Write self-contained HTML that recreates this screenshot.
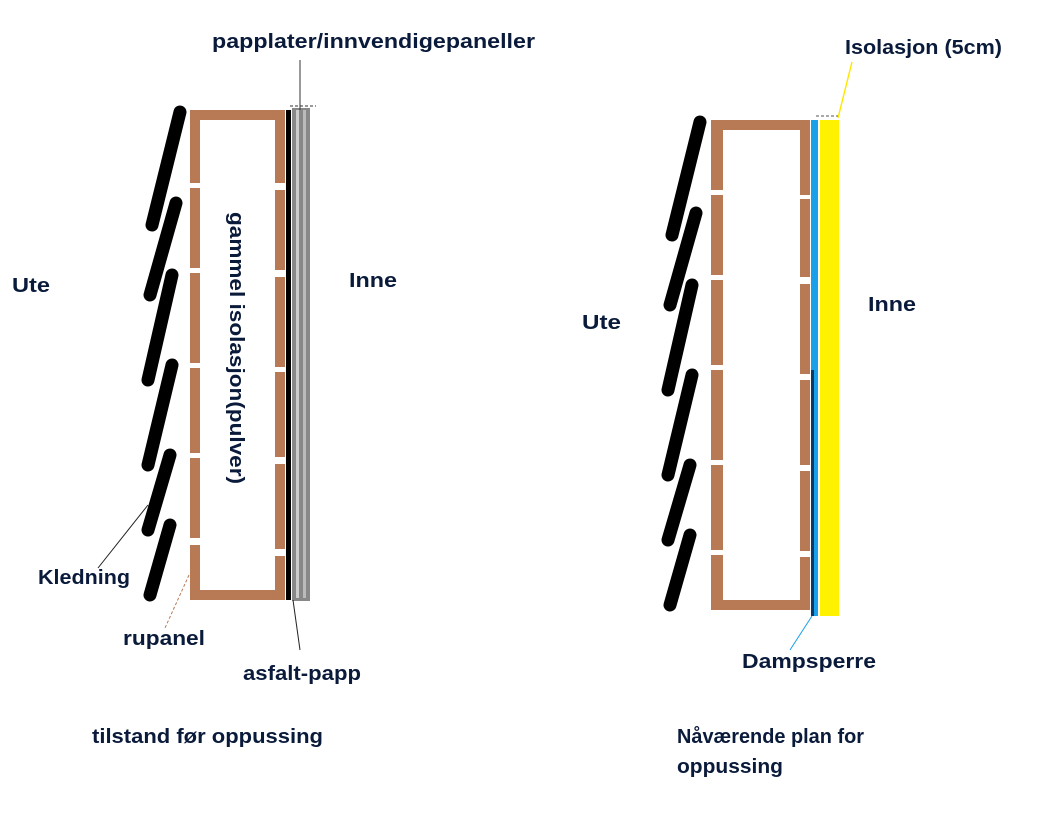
<!DOCTYPE html>
<html><head><style>
body{margin:0;background:#fff;width:1062px;height:815px;overflow:hidden}
svg{display:block}
text{font-family:"Liberation Sans",sans-serif;font-weight:bold;font-size:20px;fill:#0a1a3a}
</style></head><body>
<svg width="1062" height="815" viewBox="0 0 1062 815">
<!-- LEFT -->
<g stroke="#000" stroke-width="13" stroke-linecap="round" fill="none">
<line x1="180" y1="112" x2="152" y2="225"/>
<line x1="176" y1="203" x2="150" y2="295"/>
<line x1="172" y1="275" x2="148" y2="380"/>
<line x1="172" y1="365" x2="148" y2="465"/>
<line x1="170" y1="455" x2="148" y2="530"/>
<line x1="170" y1="525" x2="150" y2="595"/>
</g>
<g fill="#b87a55">
<rect x="190" y="110" width="95" height="10"/>
<rect x="190" y="590" width="95" height="10"/>
<rect x="190" y="110" width="10" height="73"/>
<rect x="190" y="188" width="10" height="80"/>
<rect x="190" y="273" width="10" height="90"/>
<rect x="190" y="368" width="10" height="85"/>
<rect x="190" y="458" width="10" height="80"/>
<rect x="190" y="545" width="10" height="55"/>
<rect x="275" y="110" width="10" height="73"/>
<rect x="275" y="190" width="10" height="80"/>
<rect x="275" y="277" width="10" height="90"/>
<rect x="275" y="372" width="10" height="85"/>
<rect x="275" y="464" width="10" height="85"/>
<rect x="275" y="556" width="10" height="44"/>
</g>
<rect x="286" y="110" width="5" height="490" fill="#000"/>
<rect x="292" y="108" width="18" height="493" fill="#888"/>
<rect x="296" y="110" width="3" height="488" fill="#ccc"/>
<rect x="303" y="110" width="3" height="488" fill="#bbb"/>
<line x1="300" y1="60" x2="300" y2="110" stroke="#333" stroke-width="1"/>
<line x1="290" y1="106" x2="316" y2="106" stroke="#333" stroke-width="1" stroke-dasharray="3,2"/>
<line x1="148" y1="505" x2="98" y2="568" stroke="#222" stroke-width="1"/>
<line x1="189" y1="575" x2="165" y2="628" stroke="#b87a55" stroke-width="1" stroke-dasharray="3,2"/>
<line x1="293" y1="600" x2="300" y2="650" stroke="#222" stroke-width="1"/>
<text x="220" y="222" transform="rotate(90 230 222)" fill="#0a2a6a" textLength="272" lengthAdjust="spacingAndGlyphs">gammel isolasjon(pulver)</text>
<text x="212" y="48" textLength="323" lengthAdjust="spacingAndGlyphs">papplater/innvendigepaneller</text>
<text x="12" y="292" textLength="38" lengthAdjust="spacingAndGlyphs">Ute</text>
<text x="349" y="287" textLength="48" lengthAdjust="spacingAndGlyphs">Inne</text>
<text x="38" y="584" textLength="92" lengthAdjust="spacingAndGlyphs">Kledning</text>
<text x="123" y="645" textLength="82" lengthAdjust="spacingAndGlyphs">rupanel</text>
<text x="243" y="680" textLength="118" lengthAdjust="spacingAndGlyphs">asfalt-papp</text>
<text x="92" y="743" textLength="231" lengthAdjust="spacingAndGlyphs">tilstand før oppussing</text>
<!-- RIGHT -->
<g stroke="#000" stroke-width="13" stroke-linecap="round" fill="none">
<line x1="700" y1="122" x2="672" y2="235"/>
<line x1="696" y1="213" x2="670" y2="305"/>
<line x1="692" y1="285" x2="668" y2="390"/>
<line x1="692" y1="375" x2="668" y2="475"/>
<line x1="690" y1="465" x2="668" y2="540"/>
<line x1="690" y1="535" x2="670" y2="605"/>
</g>
<g fill="#b87a55">
<rect x="711" y="120" width="99" height="10"/>
<rect x="711" y="600" width="99" height="10"/>
<rect x="711" y="120" width="12" height="70"/>
<rect x="711" y="195" width="12" height="80"/>
<rect x="711" y="280" width="12" height="85"/>
<rect x="711" y="370" width="12" height="90"/>
<rect x="711" y="465" width="12" height="85"/>
<rect x="711" y="555" width="12" height="55"/>
<rect x="800" y="120" width="10" height="75"/>
<rect x="800" y="199" width="10" height="78"/>
<rect x="800" y="284" width="10" height="90"/>
<rect x="800" y="380" width="10" height="85"/>
<rect x="800" y="471" width="10" height="80"/>
<rect x="800" y="557" width="10" height="53"/>
</g>
<rect x="811" y="120" width="7" height="496" fill="#1aa0e8"/>
<rect x="811" y="370" width="3" height="246" fill="#0a3a6a"/>
<rect x="820" y="120" width="19" height="496" fill="#fff200"/>
<line x1="838" y1="118" x2="852" y2="62" stroke="#ffe800" stroke-width="1.5"/>
<line x1="816" y1="116" x2="838" y2="116" stroke="#555" stroke-width="1" stroke-dasharray="3,2"/>
<line x1="812" y1="616" x2="790" y2="650" stroke="#1aa0e8" stroke-width="1"/>
<text x="845" y="54" textLength="157" lengthAdjust="spacingAndGlyphs">Isolasjon (5cm)</text>
<text x="582" y="329" textLength="39" lengthAdjust="spacingAndGlyphs">Ute</text>
<text x="868" y="311" textLength="48" lengthAdjust="spacingAndGlyphs">Inne</text>
<text x="742" y="668" textLength="134" lengthAdjust="spacingAndGlyphs">Dampsperre</text>
<text x="677" y="743" textLength="187" lengthAdjust="spacingAndGlyphs">Nåværende plan for</text>
<text x="677" y="773" textLength="106" lengthAdjust="spacingAndGlyphs">oppussing</text>
</svg>
</body></html>
